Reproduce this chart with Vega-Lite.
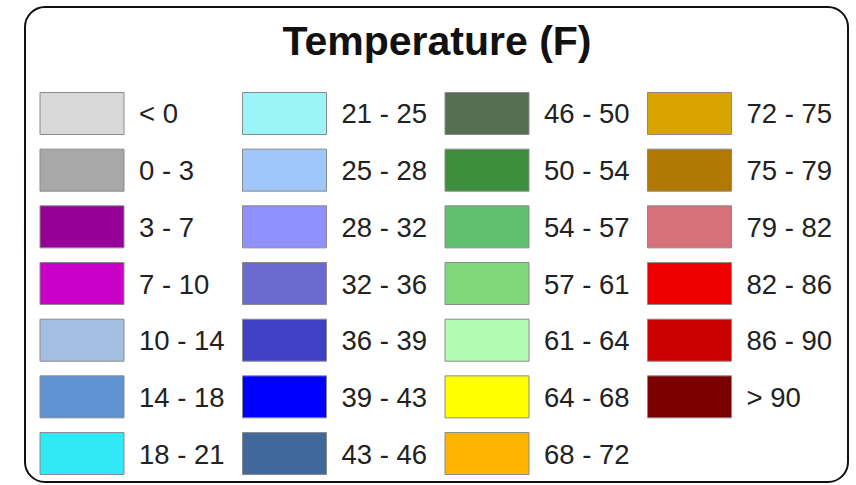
{
  "$schema": "https://vega.github.io/schema/vega-lite/v6.json",
  "width": 823,
  "height": 475,
  "padding": {"left": 25, "top": 7, "right": 8, "bottom": 3},
  "autosize": {"type": "none"},
  "background": "white",
  "config": {
    "view": {"stroke": "#111111", "strokeWidth": 2, "cornerRadius": 20, "fill": "white"}
  },
  "data": {
    "values": [
      {"label": "< 0", "col": 0, "row": 0},
      {"label": "0 - 3", "col": 0, "row": 1},
      {"label": "3 - 7", "col": 0, "row": 2},
      {"label": "7 - 10", "col": 0, "row": 3},
      {"label": "10 - 14", "col": 0, "row": 4},
      {"label": "14 - 18", "col": 0, "row": 5},
      {"label": "18 - 21", "col": 0, "row": 6},
      {"label": "21 - 25", "col": 1, "row": 0},
      {"label": "25 - 28", "col": 1, "row": 1},
      {"label": "28 - 32", "col": 1, "row": 2},
      {"label": "32 - 36", "col": 1, "row": 3},
      {"label": "36 - 39", "col": 1, "row": 4},
      {"label": "39 - 43", "col": 1, "row": 5},
      {"label": "43 - 46", "col": 1, "row": 6},
      {"label": "46 - 50", "col": 2, "row": 0},
      {"label": "50 - 54", "col": 2, "row": 1},
      {"label": "54 - 57", "col": 2, "row": 2},
      {"label": "57 - 61", "col": 2, "row": 3},
      {"label": "61 - 64", "col": 2, "row": 4},
      {"label": "64 - 68", "col": 2, "row": 5},
      {"label": "68 - 72", "col": 2, "row": 6},
      {"label": "72 - 75", "col": 3, "row": 0},
      {"label": "75 - 79", "col": 3, "row": 1},
      {"label": "79 - 82", "col": 3, "row": 2},
      {"label": "82 - 86", "col": 3, "row": 3},
      {"label": "86 - 90", "col": 3, "row": 4},
      {"label": "> 90", "col": 3, "row": 5}
    ]
  },
  "layer": [
    {
      "mark": {"type": "rect", "xOffset": -42, "x2Offset": 42, "yOffset": -21, "y2Offset": 21, "stroke": "#8a8a8a", "strokeWidth": 1},
      "encoding": {
        "x": {"field": "col", "type": "quantitative", "axis": null, "scale": {"domain": [-0.2815, 3.7827], "nice": false, "zero": false}},
        "y": {"field": "row", "type": "quantitative", "axis": null, "scale": {"domain": [-1.879, 6.502], "reverse": true, "nice": false, "zero": false}},
        "x2": {"field": "col"},
        "y2": {"field": "row"},
        "fill": {
          "field": "label",
          "type": "nominal",
          "legend": null,
          "scale": {
            "domain": ["< 0", "0 - 3", "3 - 7", "7 - 10", "10 - 14", "14 - 18", "18 - 21", "21 - 25", "25 - 28", "28 - 32", "32 - 36", "36 - 39", "39 - 43", "43 - 46", "46 - 50", "50 - 54", "54 - 57", "57 - 61", "61 - 64", "64 - 68", "68 - 72", "72 - 75", "75 - 79", "79 - 82", "82 - 86", "86 - 90", "> 90"],
            "range": ["#d9d9d9", "#a8a8a8", "#960096", "#c800c8", "#a3bfe2", "#5f92d0", "#30e8f6", "#9af4f8", "#9fc7fb", "#9090ff", "#6a6ad0", "#4141c8", "#0000ff", "#41689a", "#566e52", "#3d8f3d", "#60c070", "#80d87a", "#b2fcb2", "#ffff00", "#ffb400", "#d9a300", "#b07800", "#d8707a", "#ee0000", "#c80000", "#7a0000"]
          }
        }
      }
    },
    {
      "mark": {"type": "text", "align": "left", "baseline": "alphabetic", "dx": 57, "dy": 10, "font": "Liberation Sans", "fontSize": 27.5, "fill": "#222222"},
      "encoding": {
        "x": {"field": "col", "type": "quantitative", "axis": null},
        "y": {"field": "row", "type": "quantitative", "axis": null},
        "text": {"field": "label"}
      }
    },
    {
      "data": {"values": [{"title": "Temperature (F)", "col": 1.753, "row": -1.03}]},
      "mark": {"type": "text", "align": "center", "baseline": "alphabetic", "font": "Liberation Sans", "fontWeight": "bold", "fontSize": 41, "fill": "#111111"},
      "encoding": {
        "x": {"field": "col", "type": "quantitative", "axis": null},
        "y": {"field": "row", "type": "quantitative", "axis": null},
        "text": {"field": "title"}
      }
    }
  ]
}
